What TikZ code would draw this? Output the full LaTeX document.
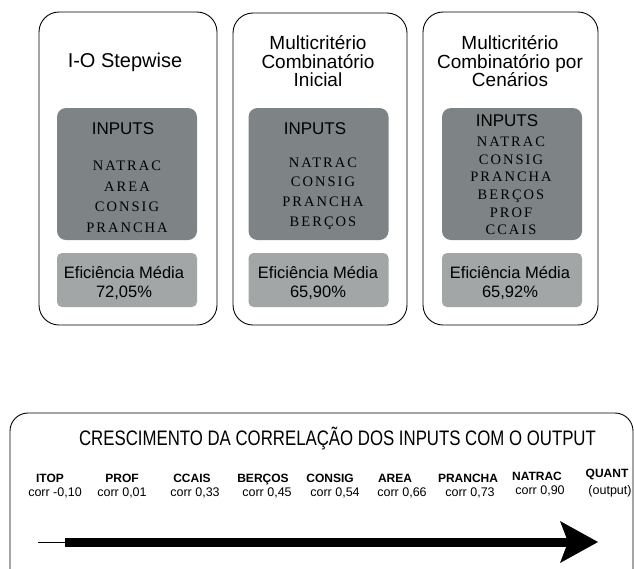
\documentclass[tikz,border=0pt]{standalone}
\usepackage{fontspec}
\setmainfont{Liberation Sans}
\newfontfamily\itemfont{Liberation Serif}[LetterSpace=14]
\newfontfamily\condfont{Liberation Sans}[FakeStretch=0.8]
\definecolor{darkbox}{RGB}{126,132,133}
\definecolor{lightbox}{RGB}{162,166,167}
\begin{document}
\begin{tikzpicture}[x=1pt,y=-1pt,
  outerbox/.style={draw=black, line width=0.9pt, rounded corners=20pt, inner sep=0pt},
  inbox/.style={fill=darkbox, rounded corners=9pt, minimum width=140pt, minimum height=132pt, inner sep=0pt},
  effbox/.style={fill=lightbox, rounded corners=5pt, minimum width=140pt, minimum height=54pt, inner sep=0pt},
  titletext/.style={font=\fontsize{19}{18.5}\selectfont, align=center, inner sep=0pt},
  inlabel/.style={font=\fontsize{17}{17}\selectfont, inner sep=0pt, anchor=base},
  items/.style={font=\itemfont\fontsize{14.5}{#1}\selectfont, align=center, inner sep=0pt},
  efftext/.style={font=\fontsize{16.5}{19}\selectfont, align=center, inner sep=0pt},
  varname/.style={font=\bfseries\fontsize{12}{12}\selectfont, inner sep=0pt, anchor=base},
  corrtext/.style={font=\fontsize{12.5}{12}\selectfont, inner sep=0pt, anchor=base}
]
\useasboundingbox (0,0) rectangle (634,568);
\clip (0,0) rectangle (634,568);

% box 1
\node[outerbox, minimum width=178pt, minimum height=313pt] (b1) at (128,168.5) {};
\node[titletext, font=\fontsize{20}{18.5}\selectfont, anchor=base] (t1) at (125,67) {I-O Stepwise};
\node[inbox] (i1) at (127,174) {};
\node[inlabel] (l1) at (123,134) {INPUTS};
\node[items=20.5] (v1) at (127,197) {NATRAC\\AREA\\CONSIG\\PRANCHA};
\node[effbox] (e1) at (127,280) {};
\node[efftext] (f1) at (124,282.5) {Eficiência Média\\72,05\%};

% box 2
\node[outerbox, minimum width=174pt, minimum height=312pt] (b2) at (320,169) {};
\node[titletext] (t2) at (318,61.5) {Multicritério\\Combinatório\\Inicial};
\node[inbox] (i2) at (318.5,174) {};
\node[inlabel] (l2) at (315,134) {INPUTS};
\node[items=19.7] (v2) at (323,193.5) {NATRAC\\CONSIG\\PRANCHA\\BERÇOS};
\node[effbox] (e2) at (318.5,280) {};
\node[efftext] (f2) at (318,282.5) {Eficiência Média\\65,90\%};

% box 3
\node[outerbox, minimum width=175pt, minimum height=313pt] (b3) at (510.5,168.5) {};
\node[titletext] (t3) at (510,61.5) {Multicritério\\Combinatório por\\Cenários};
\node[inbox] (i3) at (512,174) {};
\node[inlabel] (l3) at (507,126) {INPUTS};
\node[items=17.6] (v3) at (511,186) {NATRAC\\CONSIG\\PRANCHA\\BERÇOS\\PROF\\CCAIS};
\node[effbox] (e3) at (512,280) {};
\node[efftext] (f3) at (510,282.5) {Eficiência Média\\65,92\%};

% bottom panel
\node[outerbox, rounded corners=18pt, minimum width=623pt, minimum height=177pt] (bp) at (321.5,501.5) {};
\node[font=\condfont\fontsize{21}{21}\selectfont, inner sep=0pt, anchor=base] (bt) at (337.5,445.5) {CRESCIMENTO DA CORRELAÇÃO DOS INPUTS COM O OUTPUT};

\node[varname] (n1) at (50,482) {ITOP};
\node[corrtext] (c1) at (55,496.5) {corr -0,10};
\node[varname] (n2) at (122,482) {PROF};
\node[corrtext] (c2) at (122,496.5) {corr 0,01};
\node[varname] (n3) at (192,482) {CCAIS};
\node[corrtext] (c3) at (195,496.5) {corr 0,33};
\node[varname] (n4) at (263,482) {BERÇOS};
\node[corrtext] (c4) at (267,496.5) {corr 0,45};
\node[varname] (n5) at (330,482) {CONSIG};
\node[corrtext] (c5) at (335,496.5) {corr 0,54};
\node[varname] (n6) at (395,482) {AREA};
\node[corrtext] (c6) at (402,496.5) {corr 0,66};
\node[varname] (n7) at (468,482) {PRANCHA};
\node[corrtext] (c7) at (470,496.5) {corr 0,73};
\node[varname] (n8) at (537,480) {NATRAC};
\node[corrtext] (c8) at (540,494.5) {corr 0,90};
\node[varname] (n9) at (607,477) {QUANT};
\node[corrtext] (c9) at (610,494.5) {(output)};

% arrow
\coordinate (as) at (38,542);
\coordinate (ab) at (65,542);
\coordinate (ah) at (568,542);
\coordinate (at) at (598,542);
\draw[line width=0.6pt] (as) -- (ab);
\draw[line width=9pt] (ab) -- (ah);
\fill (at) -- ++(-38,-21) -- ++(8,21) -- ++(-8,21) -- cycle;
\end{tikzpicture}
\end{document}
